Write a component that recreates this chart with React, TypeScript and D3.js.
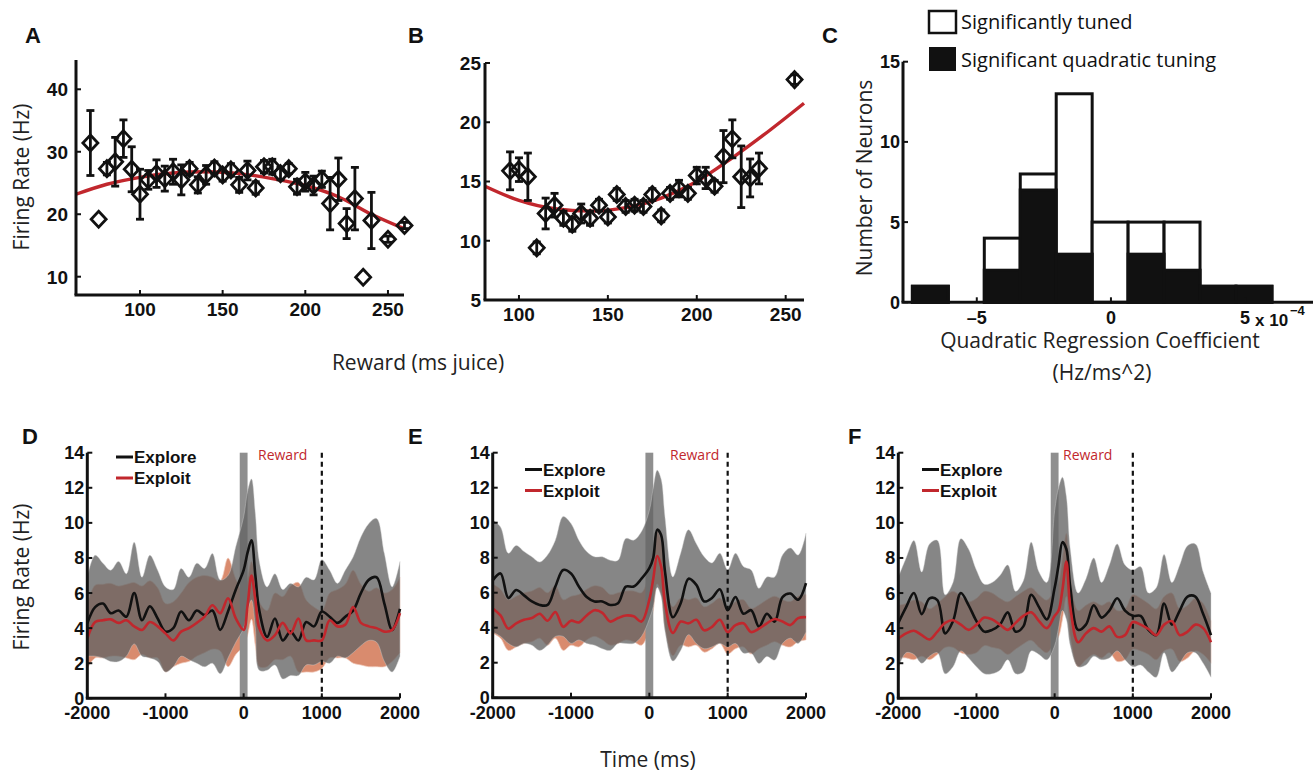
import * as d3 from "d3";

const AX = "#111";
const RED = "#c1272d";
const TICK_FONT = "'Liberation Sans', Arial, Helvetica, sans-serif";
const LABEL_FONT = "'Open Sans', 'DejaVu Sans', sans-serif";

// ---------- panel A: reward tuning, neuron 1 ----------
const rewardA = [70, 75, 80, 85, 90, 95, 100, 105, 110, 115, 120, 125, 130, 135, 140, 145, 150, 155, 160, 165, 170, 175, 180, 185, 190, 195, 200, 205, 210, 215, 220, 225, 230, 235, 240, 250, 260];
const rateA = [31.4, 19.2, 27.3, 28.4, 32.1, 27.2, 23.2, 25.5, 26.5, 25.7, 26.8, 25.5, 27.3, 24.7, 26.3, 27.4, 26.3, 27.1, 24.7, 27.0, 24.2, 27.6, 27.6, 26.5, 27.3, 24.4, 25.2, 24.6, 25.6, 21.7, 25.6, 18.5, 22.5, 9.9, 19.0, 16.0, 18.2];
const semA = [5.2, 0, 1, 3.9, 3, 3.6, 4, 1.5, 2.2, 2, 2, 2.4, 1, 1.3, 1.5, 1, 1, 1, 1.2, 1.5, 1, 1, 1.2, 1, 0.8, 1.2, 1.5, 1.5, 1.3, 4.2, 3.4, 2.4, 5, 0, 4.5, 0.5, 0.5];
const fitXA = [61.3, 80, 100, 120, 140, 160, 180, 200, 220, 240, 259.7];
const fitYA = [23.2, 24.8, 25.9, 26.6, 26.8, 26.5, 25.7, 24.6, 22.8, 20.0, 17.7];

// ---------- panel B: reward tuning, neuron 2 ----------
const rewardB = [95, 100, 105, 110, 115, 120, 125, 130, 135, 140, 145, 150, 155, 160, 165, 170, 175, 180, 185, 190, 195, 200, 205, 210, 215, 220, 225, 230, 235, 255];
const rateB = [15.9, 16.0, 15.4, 9.4, 12.3, 13.0, 11.9, 11.4, 12.3, 11.9, 13.0, 12.0, 13.9, 12.9, 13.0, 12.9, 13.9, 12.1, 14.0, 14.4, 14.0, 15.5, 15.3, 14.6, 17.1, 18.6, 15.4, 15.3, 16.1, 23.6];
const semB = [1.6, 1.0, 2.0, 0.5, 1.3, 1.0, 0.6, 0.6, 0.8, 0.6, 0.5, 0.5, 0.5, 0.5, 0.5, 0.5, 0.5, 0.5, 0.5, 0.7, 0.5, 0.7, 0.9, 0.5, 2.2, 1.6, 2.6, 1.6, 1.3, 0.4];
const fitXB = [80.9, 100, 120, 140, 160, 180, 200, 220, 240, 260.3];
const fitYB = [14.6, 13.4, 12.7, 12.5, 12.8, 13.6, 15.0, 17.0, 19.2, 21.6];

// ---------- panel C: histogram of quadratic coefficients (x 1e-4) ----------
const coefEdges = [-7.4, -6.06, -4.72, -3.38, -2.04, -0.7, 0.64, 1.98, 3.32, 4.66, 6.0];
const tunedCounts = [1, 0, 4, 8, 13, 5, 5, 5, 1, 1];
const quadCounts = [1, 0, 2, 7, 3, 0, 3, 2, 1, 1];

// ---------- panels D-F: PSTHs ----------
const timeMs = [-2000, -1900, -1800, -1700, -1600, -1500, -1400, -1300, -1200, -1100, -1000, -900, -800, -700, -600, -500, -400, -300, -200, -100, 0, 50, 100, 150, 200, 300, 400, 500, 600, 700, 800, 900, 1000, 1100, 1200, 1300, 1400, 1500, 1600, 1700, 1800, 1900, 2000];

const dExplore = [4.27, 5.2, 5.4, 4.85, 5.0, 4.65, 6.0, 4.45, 5.25, 4.55, 3.8, 4.0, 4.95, 4.45, 5.0, 4.75, 5.0, 3.9, 4.95, 6.2, 7.3, 8.3, 9.0, 7.0, 5.0, 3.5, 4.55, 3.3, 3.8, 3.3, 4.35, 4.1, 4.95, 4.65, 4.3, 4.65, 5.0, 6.0, 6.75, 6.9, 5.4, 3.9, 5.1];
const dExploreHi = [6.9, 8.15, 7.7, 7.3, 7.8, 7.1, 8.9, 6.9, 8.15, 7.3, 6.35, 6.2, 7.4, 6.9, 7.7, 7.4, 8.25, 6.75, 7.0, 8.65, 10.35, 11.8, 12.5, 10.5, 7.8, 6.35, 7.1, 6.2, 6.55, 6.35, 6.9, 6.75, 7.9, 7.3, 6.55, 7.3, 8.05, 9.2, 9.95, 10.25, 8.25, 6.35, 7.8];
const dExploreLo = [2.4, 2.4, 2.3, 2.1, 2.1, 2.4, 3.1, 2.4, 2.3, 2.1, 1.5, 1.8, 2.4, 2.2, 2.0, 1.8, 2.0, 1.4, 2.3, 3.2, 4.0, 5.0, 5.6, 4.0, 1.6, 1.6, 1.9, 1.1, 1.3, 1.3, 1.9, 1.9, 2.1, 2.0, 2.4, 2.3, 2.6, 3.0, 3.3, 3.2, 2.1, 1.5, 2.4];
const dExploit = [3.4, 4.35, 4.45, 4.5, 4.3, 4.45, 4.1, 3.9, 4.35, 4.1, 3.7, 3.3, 3.8, 4.0, 4.3, 4.65, 5.3, 4.85, 5.7, 4.55, 3.9, 5.3, 7.0, 5.6, 4.0, 3.3, 3.6, 4.3, 3.7, 4.55, 3.3, 3.3, 3.3, 4.45, 4.1, 4.2, 5.2, 4.3, 4.1, 4.0, 3.8, 3.9, 4.85];
const dExploitHi = [5.4, 6.45, 6.5, 6.55, 6.4, 6.5, 6.6, 6.4, 6.7, 6.3, 5.4, 5.5, 6.0, 6.6, 6.9, 7.0, 6.9, 6.7, 8.0, 6.8, 6.0, 6.8, 7.8, 7.0, 5.5, 5.0, 6.0, 5.8, 6.4, 6.6, 5.6, 5.2, 5.0, 6.0, 6.2, 6.5, 7.3, 6.5, 6.1, 6.3, 6.0, 6.2, 6.9];
const dExploitLo = [1.7, 2.3, 2.3, 2.4, 2.4, 2.3, 2.2, 2.5, 2.3, 2.3, 1.5, 1.8, 2.0, 2.1, 2.4, 2.6, 2.8, 2.7, 1.8, 2.5, 3.0, 3.6, 4.5, 3.0, 1.8, 1.8, 2.2, 2.2, 2.4, 1.5, 1.5, 1.5, 1.7, 2.3, 2.3, 2.3, 2.0, 1.9, 1.8, 1.8, 1.8, 2.1, 2.6];

const eExplore = [6.7, 7.1, 5.7, 6.15, 5.85, 5.5, 5.3, 5.3, 6.35, 7.3, 7.1, 6.35, 5.75, 5.5, 5.5, 5.3, 5.4, 6.35, 6.35, 6.8, 7.4, 8.0, 9.6, 9.3, 7.2, 4.6, 5.4, 6.8, 6.45, 5.5, 5.7, 6.2, 5.0, 5.75, 4.8, 5.0, 4.05, 4.8, 4.35, 5.75, 5.95, 5.6, 6.55];
const eExploreHi = [10.15, 9.75, 8.25, 8.7, 8.35, 8.05, 7.75, 8.15, 9.0, 10.35, 9.95, 9.0, 8.35, 8.05, 8.05, 7.85, 7.85, 9.1, 9.0, 9.5, 10.7, 12.0, 13.0, 12.5, 10.3, 6.9, 8.25, 9.6, 8.8, 8.05, 7.7, 8.25, 7.3, 8.25, 7.5, 7.3, 6.25, 6.9, 6.9, 8.15, 8.55, 8.15, 9.4];
const eExploreLo = [3.75, 3.5, 3.1, 2.9, 3.1, 3.0, 2.7, 3.0, 3.5, 3.5, 3.1, 3.3, 3.1, 3.0, 2.8, 2.7, 3.1, 3.1, 3.1, 3.5, 4.5, 5.2, 6.3, 5.8, 3.8, 2.1, 2.7, 3.6, 3.1, 2.8, 2.9, 3.1, 2.9, 3.1, 2.55, 2.55, 1.95, 2.35, 2.15, 3.1, 3.4, 3.1, 3.75];
const eExploit = [5.1, 4.7, 3.95, 4.25, 4.45, 4.55, 4.8, 4.4, 4.9, 4.05, 4.4, 4.3, 4.7, 5.0, 4.85, 4.35, 4.55, 4.7, 4.65, 4.35, 5.6, 6.8, 8.1, 7.5, 5.4, 3.7, 4.35, 4.25, 4.45, 3.85, 4.05, 4.45, 3.75, 4.15, 4.25, 3.75, 3.95, 4.25, 4.5, 4.35, 4.15, 4.55, 4.6];
const eExploitHi = [6.5, 6.2, 5.6, 5.8, 6.0, 6.1, 6.3, 6.0, 6.4, 5.6, 5.8, 5.9, 6.2, 6.4, 6.3, 5.9, 6.0, 6.1, 6.1, 6.0, 7.2, 8.3, 9.5, 9.0, 6.8, 5.2, 5.7, 5.6, 5.7, 5.2, 5.4, 5.7, 5.1, 5.5, 5.6, 5.1, 5.3, 5.6, 5.8, 5.6, 5.5, 5.8, 5.9];
const eExploitLo = [3.7, 3.4, 2.7, 2.9, 3.1, 3.2, 3.4, 3.0, 3.4, 2.7, 3.0, 2.9, 3.3, 3.5, 3.3, 3.0, 3.1, 3.3, 3.2, 3.0, 3.9, 5.0, 6.5, 6.0, 4.0, 2.4, 3.0, 2.9, 3.0, 2.6, 2.8, 3.1, 2.5, 2.8, 2.9, 2.5, 2.8, 3.0, 3.2, 3.0, 2.9, 3.2, 3.3];

const fExplore = [4.3, 5.2, 6.0, 4.8, 5.7, 5.6, 3.7, 4.4, 6.0, 5.3, 4.4, 3.8, 3.9, 4.2, 4.9, 3.8, 4.1, 5.9, 5.2, 4.5, 6.3, 7.6, 8.9, 8.5, 6.3, 3.9, 4.2, 5.3, 4.6, 5.0, 5.7, 5.0, 4.7, 4.7, 3.9, 3.6, 5.4, 4.2, 5.0, 5.8, 5.8, 4.8, 3.6];
const fExploreHi = [6.9, 8.0, 9.0, 7.2, 8.8, 9.0, 5.9, 6.6, 9.1, 8.5, 7.3, 6.5, 6.6, 7.0, 7.6, 6.1, 6.7, 8.9, 7.2, 6.6, 10.7, 12.0, 12.6, 11.5, 8.5, 6.0, 6.8, 8.0, 6.6, 7.6, 8.8, 7.6, 7.3, 7.5, 6.0, 6.3, 8.2, 6.6, 7.6, 8.7, 8.8, 7.2, 6.0];
const fExploreLo = [1.7, 2.6, 2.5, 2.0, 2.4, 2.6, 1.4, 1.8, 2.7, 2.3, 1.8, 1.4, 1.4, 1.6, 2.2, 1.4, 1.5, 2.7, 2.5, 2.2, 3.0, 4.0, 5.0, 4.5, 3.0, 1.8, 1.9, 2.4, 2.2, 2.3, 2.7, 2.2, 1.8, 1.9, 1.5, 1.2, 2.6, 1.5, 2.0, 2.6, 2.6, 2.0, 1.2];
const fExploit = [3.4, 3.7, 3.85, 3.6, 3.35, 3.8, 4.3, 4.45, 4.2, 3.9, 4.2, 4.6, 4.5, 4.2, 3.9, 4.3, 4.7, 4.9, 4.4, 4.0, 4.7, 5.0, 6.2, 7.8, 5.2, 3.2, 3.7, 4.0, 3.8, 4.1, 3.5, 3.6, 4.35, 4.2, 3.95, 3.6, 4.2, 4.4, 3.6, 3.8, 4.2, 4.0, 3.2];
const fExploitHi = [5.3, 5.4, 5.6, 5.5, 5.1, 5.4, 5.8, 6.1, 5.8, 5.5, 5.7, 6.1, 6.0, 5.7, 5.5, 5.8, 6.1, 6.3, 5.9, 5.6, 6.2, 6.6, 8.0, 9.4, 7.0, 5.0, 5.3, 5.5, 5.3, 5.5, 5.0, 5.1, 5.9, 5.7, 5.4, 5.1, 5.8, 6.0, 5.1, 5.3, 5.7, 5.4, 4.4];
const fExploitLo = [2.3, 2.3, 2.2, 2.4, 2.2, 2.5, 2.9, 2.9, 2.6, 2.5, 2.6, 3.0, 2.9, 2.8, 2.5, 2.8, 3.1, 3.3, 2.9, 2.6, 3.2, 3.5, 4.5, 5.8, 3.5, 1.8, 2.2, 2.5, 2.3, 2.6, 2.1, 2.2, 2.8, 2.7, 2.5, 2.2, 2.7, 2.8, 2.1, 2.3, 2.7, 2.5, 2.0];

const timeTicks = [-2000, -1000, 0, 1000, 2000];
const rateTicks = [0, 2, 4, 6, 8, 10, 12, 14];

type Scale = d3.ScaleLinear<number, number>;

// axis lines with inward matlab-style ticks
function Axes({ x, y, xTicks, yTicks, fmtX, fs, xEnd, xLabelDy = 21, yGap = 6 }: {
  x: Scale; y: Scale; xTicks: number[]; yTicks: number[]; fmtX?: (v: number) => string;
  fs: number; xEnd?: number; xLabelDy?: number; yGap?: number;
}) {
  const [x0, x1] = x.range();
  const [y0, y1] = y.range();
  return (
    <g fontFamily={TICK_FONT} fontWeight="bold" fontSize={fs} fill={AX}>
      <line x1={x0} x2={x0} y1={y1} y2={y0} stroke={AX} strokeWidth={3} />
      <line x1={x0 - 1.5} x2={xEnd ?? x1} y1={y0} y2={y0} stroke={AX} strokeWidth={3} />
      {xTicks.map((t) => (
        <g key={"x" + t}>
          <line x1={x(t)} x2={x(t)} y1={y0} y2={y0 - 5} stroke={AX} strokeWidth={2} />
          <text x={x(t)} y={y0 + xLabelDy} textAnchor="middle">{fmtX ? fmtX(t) : t}</text>
        </g>
      ))}
      {yTicks.map((t) => (
        <g key={"y" + t}>
          <line x1={x0} x2={x0 + 5} y1={y(t)} y2={y(t)} stroke={AX} strokeWidth={2} />
          <text x={x0 - yGap} y={y(t)} dy="0.36em" textAnchor="end">{t}</text>
        </g>
      ))}
    </g>
  );
}

function ScatterPanel({ xs, ys, errs, fitX, fitY, x, y, xTicks, yTicks, yGap }: {
  xs: number[]; ys: number[]; errs: number[]; fitX: number[]; fitY: number[];
  x: Scale; y: Scale; xTicks: number[]; yTicks: number[]; yGap: number;
}) {
  const fit = d3.line<number>().x((d) => x(d)).y((_, i) => y(fitY[i])).curve(d3.curveMonotoneX)(fitX) ?? "";
  return (
    <g>
      <path d={fit} fill="none" stroke={RED} strokeWidth={3.4} />
      {xs.map((v, i) => {
        const cx = x(v);
        const cy = y(ys[i]);
        const e = errs[i];
        const top = y(ys[i] + e);
        const bot = y(ys[i] - e);
        return (
          <g key={i} stroke={AX}>
            {e > 0 && (
              <>
                <line x1={cx} x2={cx} y1={top} y2={bot} strokeWidth={2.8} />
                <line x1={cx - 4} x2={cx + 4} y1={top} y2={top} strokeWidth={2.8} />
                <line x1={cx - 4} x2={cx + 4} y1={bot} y2={bot} strokeWidth={2.8} />
              </>
            )}
            <path d={`M${cx},${cy - 8}L${cx + 7.5},${cy}L${cx},${cy + 8}L${cx - 7.5},${cy}Z`} fill="none" strokeWidth={2.8} />
          </g>
        );
      })}
      <Axes x={x} y={y} xTicks={xTicks} yTicks={yTicks} fs={19} yGap={yGap} />
    </g>
  );
}

function Histogram() {
  const x = d3.scaleLinear().domain([-7.75, 7.53]).range([903, 1313]);
  const y = d3.scaleLinear().domain([0, 15]).range([302.3, 61.7]);
  const bins = coefEdges.slice(0, -1).map((e, i) => ({ x0: e, x1: coefEdges[i + 1], tuned: tunedCounts[i], quad: quadCounts[i] }));
  return (
    <g>
      {bins.filter((b) => b.tuned > 0).map((b, i) => (
        <rect key={"t" + i} x={x(b.x0)} y={y(b.tuned)} width={x(b.x1) - x(b.x0)} height={y(0) - y(b.tuned)} fill="#fff" stroke={AX} strokeWidth={3} />
      ))}
      {bins.filter((b) => b.quad > 0).map((b, i) => (
        <rect key={"q" + i} x={x(b.x0)} y={y(b.quad)} width={x(b.x1) - x(b.x0)} height={y(0) - y(b.quad)} fill={AX} stroke={AX} strokeWidth={3} />
      ))}
      <Axes x={x} y={y} xTicks={[-5, 0, 5]} yTicks={[0, 5, 10, 15]} fs={18} xEnd={1313} xLabelDy={22} yGap={3}
        fmtX={(v) => (v < 0 ? "\u2013" + Math.abs(v) : String(v))} />
      <g fontFamily={TICK_FONT} fontWeight="bold" fill={AX}>
        <text x={1255} y={326} fontSize={17}>x 10</text>
        <text x={1290} y={315} fontSize={13}>{"\u2212"}4</text>
      </g>
      <g fontFamily={LABEL_FONT} fontSize={20} fill={AX}>
        <rect x={929} y={11} width={27} height={22} fill="#fff" stroke={AX} strokeWidth={2.5} />
        <text x={961} y={29}>Significantly tuned</text>
        <rect x={929} y={47} width={27} height={24} fill={AX} />
        <text x={961} y={67}>Significant quadratic tuning</text>
      </g>
      <g fontFamily={LABEL_FONT} fontSize={21} fill="#222" textAnchor="middle">
        <text transform="translate(872,178) rotate(-90)">Number of Neurons</text>
        <text x={1100} y={348}>Quadratic Regression Coefficient</text>
        <text x={1102} y={380}>(Hz/ms^2)</text>
      </g>
    </g>
  );
}

type Psth = {
  left: number; right: number; top: number; bottom: number; legY: number; legX: number; rewardX: number;
  explore: number[]; exploreHi: number[]; exploreLo: number[];
  exploit: number[]; exploitHi: number[]; exploitLo: number[];
};

const psthPanels: Psth[] = [
  { left: 87.3, right: 400, top: 452.7, bottom: 698.3, legX: 116, legY: 457, rewardX: 258,
    explore: dExplore, exploreHi: dExploreHi, exploreLo: dExploreLo, exploit: dExploit, exploitHi: dExploitHi, exploitLo: dExploitLo },
  { left: 492.7, right: 806, top: 452.7, bottom: 697.7, legX: 525, legY: 469.5, rewardX: 670,
    explore: eExplore, exploreHi: eExploreHi, exploreLo: eExploreLo, exploit: eExploit, exploitHi: eExploitHi, exploitLo: eExploitLo },
  { left: 898.3, right: 1211, top: 452.7, bottom: 698.3, legX: 922, legY: 469.5, rewardX: 1063,
    explore: fExplore, exploreHi: fExploreHi, exploreLo: fExploreLo, exploit: fExploit, exploitHi: fExploitHi, exploitLo: fExploitLo },
];

function PsthPanel({ p }: { p: Psth }) {
  const x = d3.scaleLinear().domain([-2000, 2000]).range([p.left, p.right]);
  const y = d3.scaleLinear().domain([0, 14]).range([p.bottom, p.top]);
  const band = (hi: number[], lo: number[]) =>
    d3.area<number>().x((_, i) => x(timeMs[i])).y0((_, i) => y(lo[i])).y1((d) => y(d)).curve(d3.curveCatmullRom)(hi) ?? "";
  const trace = (v: number[]) =>
    d3.line<number>().x((_, i) => x(timeMs[i])).y((d) => y(d)).curve(d3.curveCatmullRom)(v) ?? "";
  return (
    <g>
      <path d={band(p.exploitHi, p.exploitLo)} fill="#d98b6e" stroke="#f2cdbf" strokeWidth={0.7} />
      <rect x={x(-50)} y={p.top} width={x(50) - x(-50)} height={p.bottom - p.top} fill="#8f8f8f" />
      <path d={band(p.exploreHi, p.exploreLo)} fill="rgb(100,100,100)" fillOpacity={0.78} stroke="#d0d0d0" strokeWidth={0.6} strokeOpacity={0.7} />
      <line x1={x(1000)} x2={x(1000)} y1={p.top} y2={p.bottom} stroke={AX} strokeWidth={2.2} strokeDasharray="5,4" />
      <path d={trace(p.explore)} fill="none" stroke={AX} strokeWidth={2.6} />
      <path d={trace(p.exploit)} fill="none" stroke={RED} strokeWidth={2.6} />
      <Axes x={x} y={y} xTicks={timeTicks} yTicks={rateTicks} fs={18} yGap={3} />
      <text x={p.rewardX} y={460} fill={RED} fontFamily={LABEL_FONT} fontSize={14}>Reward</text>
      <g fontFamily={TICK_FONT} fontWeight="bold" fontSize={17} fill={AX}>
        <line x1={p.legX} x2={p.legX + 17} y1={p.legY} y2={p.legY} stroke={AX} strokeWidth={3} />
        <text x={p.legX + 18} y={p.legY + 6}>Explore</text>
        <line x1={p.legX} x2={p.legX + 17} y1={p.legY + 21} y2={p.legY + 21} stroke={RED} strokeWidth={3} />
        <text x={p.legX + 18} y={p.legY + 27}>Exploit</text>
      </g>
    </g>
  );
}

export default function App() {
  const xA = d3.scaleLinear().domain([61.3, 259.7]).range([76, 404]);
  const yA = d3.scaleLinear().domain([7.07, 44.69]).range([295, 60]);
  const xB = d3.scaleLinear().domain([80.9, 260.3]).range([485, 804]);
  const yB = d3.scaleLinear().domain([5, 25]).range([300, 63]);
  const letters = [
    { t: "A", x: 25, y: 43 }, { t: "B", x: 408, y: 43 }, { t: "C", x: 822, y: 43 },
    { t: "D", x: 22, y: 444 }, { t: "E", x: 408, y: 444 }, { t: "F", x: 848, y: 444 },
  ];
  return (
    <svg width={1313} height={774} style={{ position: "absolute", left: 0, top: 0, background: "#fff" }}>
      <rect width={1313} height={774} fill="#fff" />
      <ScatterPanel xs={rewardA} ys={rateA} errs={semA} fitX={fitXA} fitY={fitYA} x={xA} y={yA}
        xTicks={[100, 150, 200, 250]} yTicks={[10, 20, 30, 40]} yGap={8} />
      <ScatterPanel xs={rewardB} ys={rateB} errs={semB} fitX={fitXB} fitY={fitYB} x={xB} y={yB}
        xTicks={[100, 150, 200, 250]} yTicks={[5, 10, 15, 20, 25]} yGap={4} />
      <Histogram />
      {psthPanels.map((p, i) => <PsthPanel key={i} p={p} />)}
      <g fontFamily={LABEL_FONT} fontSize={21} fill="#222" textAnchor="middle">
        <text transform="translate(29,177) rotate(-90)">Firing Rate (Hz)</text>
        <text transform="translate(29,577) rotate(-90)">Firing Rate (Hz)</text>
        <text x={418} y={370}>Reward (ms juice)</text>
        <text x={648} y={767}>Time (ms)</text>
      </g>
      <g fontFamily={TICK_FONT} fontWeight="bold" fontSize={22} fill={AX}>
        {letters.map((l) => <text key={l.t} x={l.x} y={l.y}>{l.t}</text>)}
      </g>
    </svg>
  );
}
